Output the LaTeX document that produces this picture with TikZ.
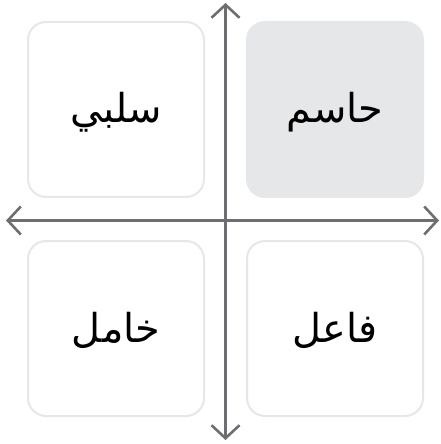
\documentclass[tikz,border=0pt]{standalone}
\usepackage{fontspec}
\usetikzlibrary{arrows.meta}
\TeXXeTstate=1
\newfontfamily\arabicfont[Script=Arabic]{DejaVu Sans}
\definecolor{boxline}{HTML}{E6E7E8}
\definecolor{boxfill}{HTML}{E6E7E8}
\definecolor{axis}{HTML}{6D6E71}
\tikzset{
  quad/.style={draw=boxline, line width=2bp, rounded corners=18bp, fill=white},
  quadhi/.style={quad, fill=boxfill},
  lbl/.style={font=\arabicfont\fontsize{40}{44}\selectfont, text=black},
  axisline/.style={draw=axis, line width=2.6bp, {Straight Barb[length=13bp,width=28bp,line width=2.6bp]}-{Straight Barb[length=13bp,width=28bp,line width=2.6bp]}}
}
\begin{document}
\begin{tikzpicture}[x=1bp,y=-1bp]
\useasboundingbox (0,0) rectangle (441,444);
\draw[quad] (28,22) rectangle (204,197);
\draw[quadhi, draw=boxfill] (247,22) rectangle (423,197);
\draw[quad] (28,241) rectangle (204,416);
\draw[quad] (247,241) rectangle (423,416);
\node[lbl] (tl) at (116,112) {\beginR سلبي\endR};
\node[lbl] (tr) at (335,112) {\beginR حاسم\endR};
\node[lbl] (bl) at (116,330) {\beginR خامل\endR};
\node[lbl] (br) at (335,330) {\beginR فاعل\endR};
\coordinate (top) at (225.5,3);
\coordinate (bot) at (225.5,440);
\coordinate (lft) at (6,220.5);
\coordinate (rgt) at (439,220.5);
\draw[axisline] (top) -- (bot);
\draw[axisline] (lft) -- (rgt);
\end{tikzpicture}
\end{document}
